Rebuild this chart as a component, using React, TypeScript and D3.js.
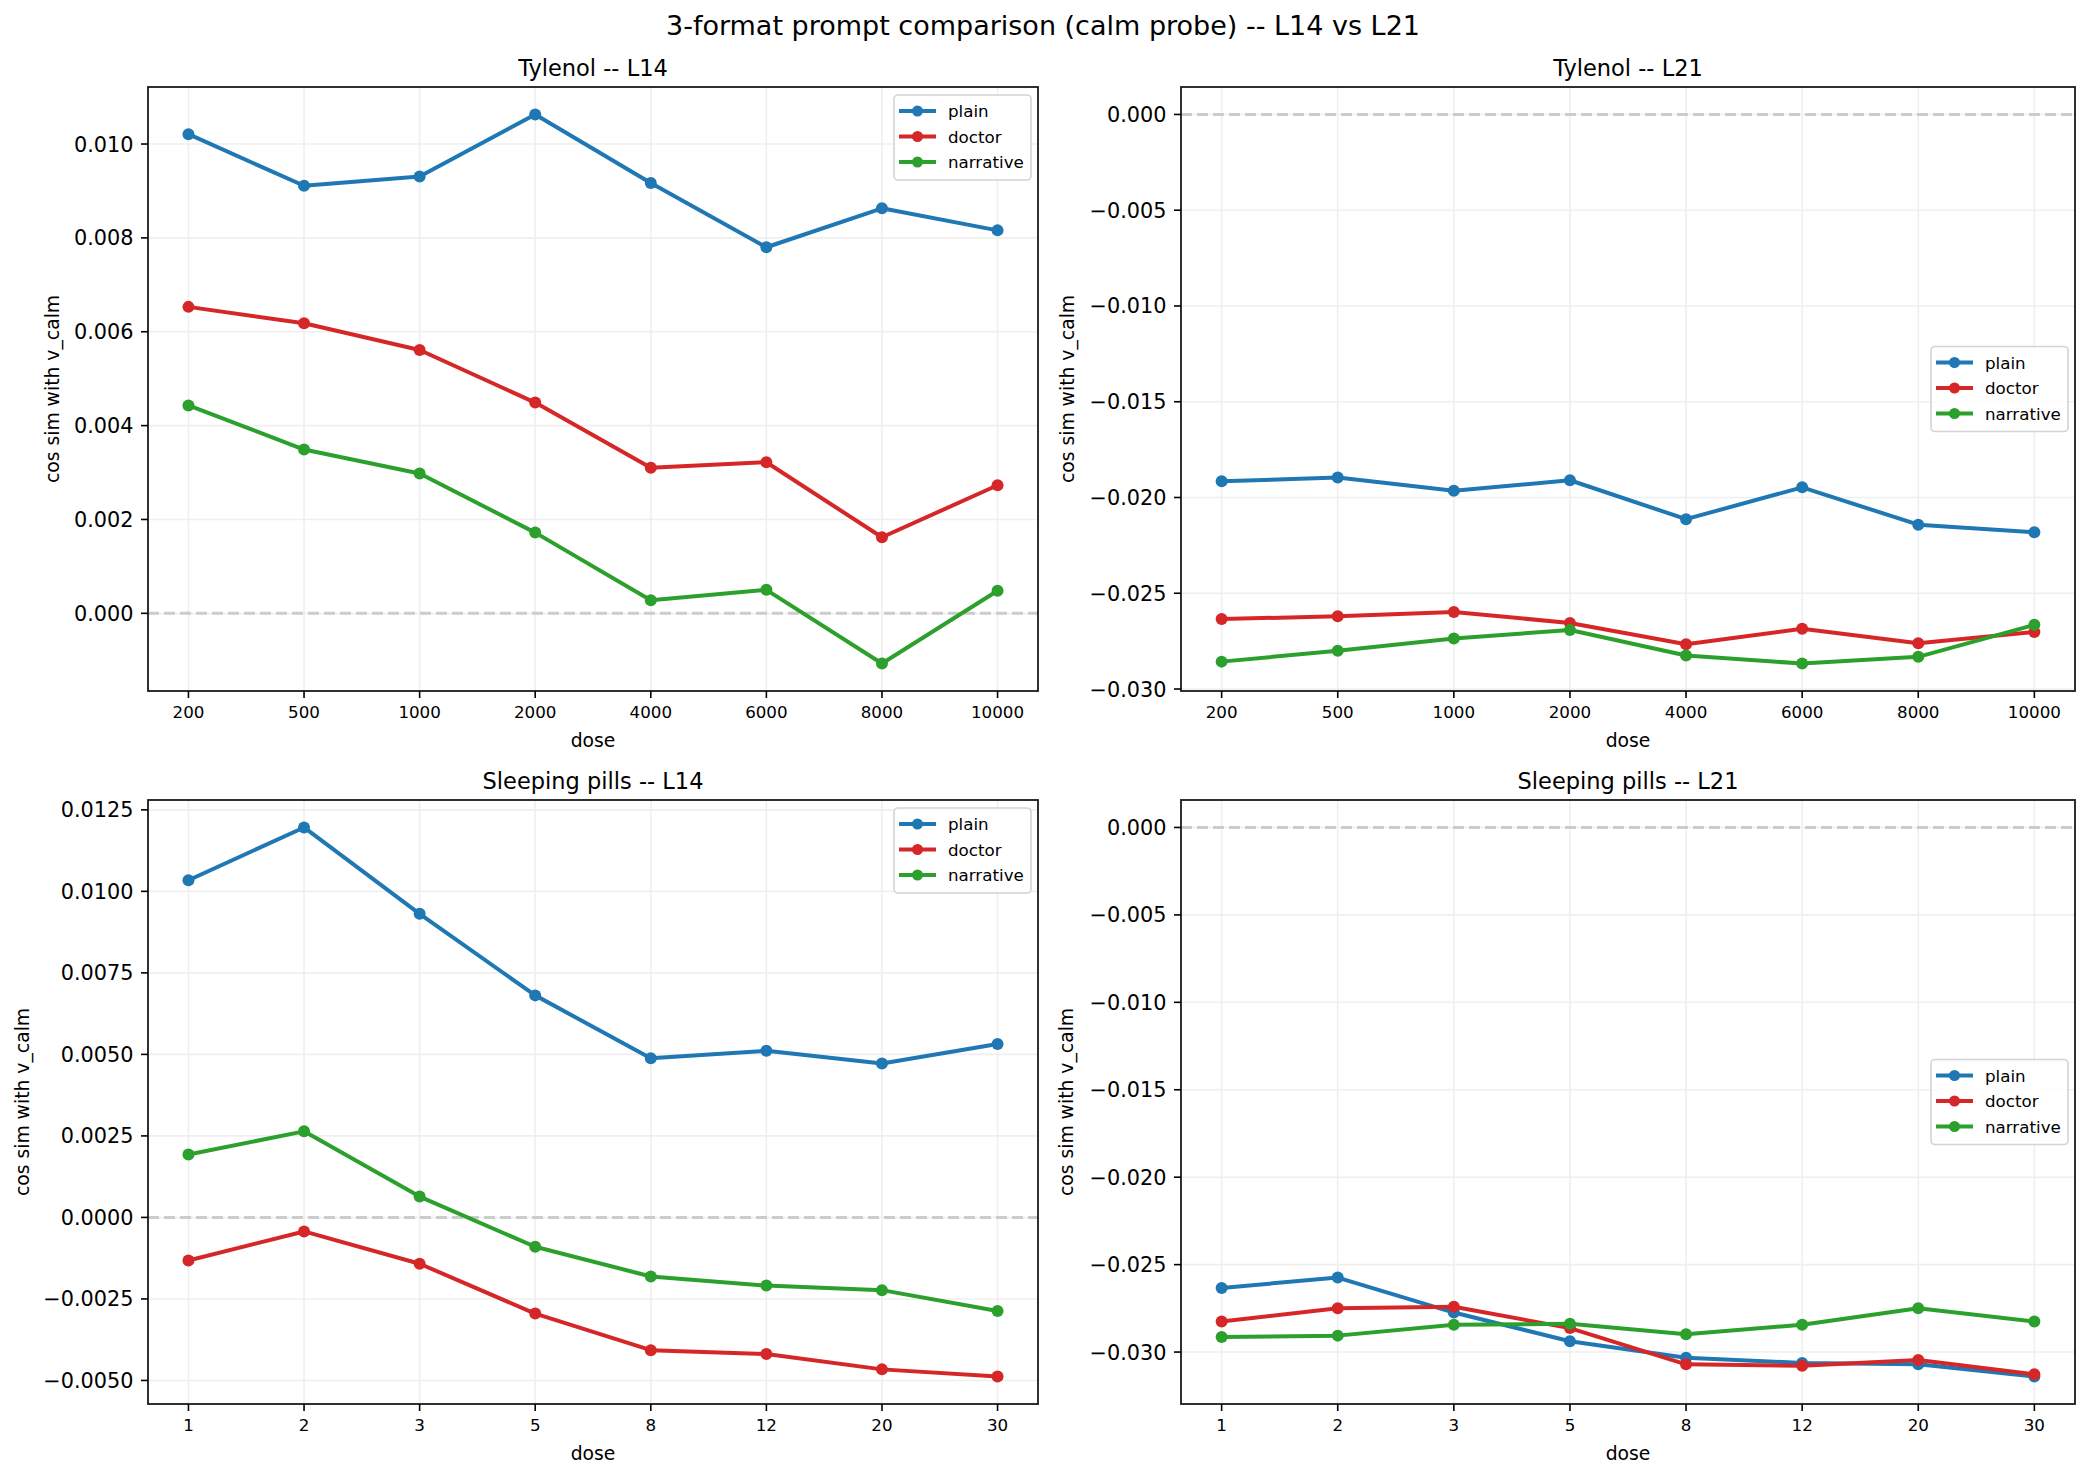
import React from "react";
import * as d3 from "d3";

// ---- data ----
const TYLENOL_DOSES = ["200", "500", "1000", "2000", "4000", "6000", "8000", "10000"];
const SLEEP_DOSES = ["1", "2", "3", "5", "8", "12", "20", "30"];
const SERIES_NAMES = ["plain", "doctor", "narrative"];

const tylL14Plain = [0.01021, 0.00911, 0.00931, 0.01063, 0.00917, 0.0078, 0.00863, 0.00816];
const tylL14Doctor = [0.00653, 0.00618, 0.00561, 0.00449, 0.0031, 0.00322, 0.00162, 0.00273];
const tylL14Narrative = [0.00443, 0.00349, 0.00298, 0.00172, 0.00028, 0.0005, -0.00107, 0.00048];

const tylL21Plain = [-0.01915, -0.01896, -0.01965, -0.0191, -0.02113, -0.01947, -0.02142, -0.02182];
const tylL21Doctor = [-0.02635, -0.0262, -0.02598, -0.02655, -0.02766, -0.02685, -0.02761, -0.02702];
const tylL21Narrative = [-0.02857, -0.028, -0.02736, -0.02692, -0.02825, -0.02867, -0.02832, -0.02665];

const slpL14Plain = [0.01034, 0.01196, 0.00931, 0.00681, 0.00488, 0.00511, 0.00472, 0.00532];
const slpL14Doctor = [-0.00132, -0.00043, -0.00142, -0.00295, -0.00407, -0.00419, -0.00466, -0.00488];
const slpL14Narrative = [0.00193, 0.00264, 0.00064, -0.0009, -0.00181, -0.00209, -0.00223, -0.00287];

const slpL21Plain = [-0.02633, -0.02574, -0.02774, -0.02938, -0.03032, -0.03062, -0.0307, -0.0314];
const slpL21Doctor = [-0.02825, -0.02749, -0.02741, -0.02863, -0.0307, -0.03078, -0.03046, -0.03127];
const slpL21Narrative = [-0.02914, -0.02906, -0.02844, -0.02838, -0.02898, -0.02844, -0.02749, -0.02825];

const TICKS_TYL_L14 = [0, 0.002, 0.004, 0.006, 0.008, 0.01];
const TICKS_L21 = [0, -0.005, -0.01, -0.015, -0.02, -0.025, -0.03];
const TICKS_SLP_L14 = [-0.005, -0.0025, 0, 0.0025, 0.005, 0.0075, 0.01, 0.0125];

const COLORS = ["#1f77b4", "#d62728", "#2ca02c"];
const FONT = "DejaVu Sans, sans-serif";

const fmt = (digits) => (v) => {
  const s = Math.abs(v).toFixed(digits);
  return v < -1e-12 ? "\u2212" + s : s;
};

function Panel({ box, title, doses, series, ticks, tickFmt, legendLoc, ylabelOffset }) {
  const { x0, x1, y0, y1 } = box;
  const n = doses.length;
  const x = d3.scaleLinear().domain([-0.35, n - 1 + 0.35]).range([x0, x1]);
  const all = series.flat().concat([0]);
  const [mn, mx] = d3.extent(all);
  const pad = (mx - mn) * 0.05;
  const y = d3.scaleLinear().domain([mn - pad, mx + pad]).range([y1, y0]);
  const line = d3
    .line()
    .x((d, i) => x(i))
    .y((d) => y(d));

  // legend layout
  const lw = 137, lh = 85;
  const lx = x1 - 7 - lw;
  const ly = legendLoc === "upper right" ? y0 + 8 : (y0 + y1) / 2 - lh / 2;

  return (
    <g>
      {/* grid */}
      {doses.map((d, i) => (
        <line key={"gx" + i} x1={x(i)} x2={x(i)} y1={y0} y2={y1} stroke="#efefef" strokeWidth={1.6} />
      ))}
      {ticks.map((t, i) => (
        <line key={"gy" + i} x1={x0} x2={x1} y1={y(t)} y2={y(t)} stroke="#efefef" strokeWidth={1.6} />
      ))}
      {/* zero line */}
      <line x1={x0} x2={x1} y1={y(0)} y2={y(0)} stroke="#cccccc" strokeWidth={3} strokeDasharray="11 5" />
      {/* series */}
      {series.map((vals, si) => (
        <g key={"s" + si}>
          <path d={line(vals)} fill="none" stroke={COLORS[si]} strokeWidth={4} strokeLinejoin="round" />
          {vals.map((v, i) => (
            <circle key={i} cx={x(i)} cy={y(v)} r={6} fill={COLORS[si]} />
          ))}
        </g>
      ))}
      {/* spines */}
      <rect x={x0} y={y0} width={x1 - x0} height={y1 - y0} fill="none" stroke="#1a1a1a" strokeWidth={1.8} />
      {/* x ticks */}
      {doses.map((d, i) => (
        <g key={"xt" + i}>
          <line x1={x(i)} x2={x(i)} y1={y1} y2={y1 + 7} stroke="#000" strokeWidth={1.6} />
          <text x={x(i)} y={y1 + 27} textAnchor="middle" fontSize={16.7} fontFamily={FONT}>
            {d}
          </text>
        </g>
      ))}
      {/* y ticks */}
      {ticks.map((t, i) => (
        <g key={"yt" + i}>
          <line x1={x0 - 7} x2={x0} y1={y(t)} y2={y(t)} stroke="#000" strokeWidth={1.6} />
          <text x={x0 - 14.5} y={y(t) + 7.5} textAnchor="end" fontSize={20.8} fontFamily={FONT}>
            {tickFmt(t)}
          </text>
        </g>
      ))}
      {/* labels */}
      <text x={(x0 + x1) / 2} y={y1 + 56} textAnchor="middle" fontSize={18.75} fontFamily={FONT}>
        dose
      </text>
      <text
        transform={`translate(${x0 - ylabelOffset + 6},${(y0 + y1) / 2}) rotate(-90)`}
        textAnchor="middle"
        fontSize={18.75}
        fontFamily={FONT}
      >
        cos sim with v_calm
      </text>
      <text x={(x0 + x1) / 2} y={y0 - 11.5} textAnchor="middle" fontSize={22.5} fontFamily={FONT}>
        {title}
      </text>
      {/* legend */}
      <g>
        <rect x={lx} y={ly} width={lw} height={lh} rx={4} fill="#fff" fillOpacity={0.8} stroke="#d4d4d4" strokeWidth={1.6} />
        {SERIES_NAMES.map((name, si) => {
          const cy = ly + 16 + si * 25.5;
          return (
            <g key={name}>
              <line x1={lx + 5} x2={lx + 42} y1={cy} y2={cy} stroke={COLORS[si]} strokeWidth={4} />
              <circle cx={lx + 23.5} cy={cy} r={5.5} fill={COLORS[si]} />
              <text x={lx + 54} y={cy + 6} fontSize={16.7} fontFamily={FONT}>
                {name}
              </text>
            </g>
          );
        })}
      </g>
    </g>
  );
}

export default function App() {
  return (
    <svg width={2086} height={1480} style={{ position: "absolute", left: 0, top: 0, background: "#fff" }}>
      <rect width={2086} height={1480} fill="#fff" />
      <text x={1043} y={35} textAnchor="middle" fontSize={27} fontFamily={FONT}>
        3-format prompt comparison (calm probe) -- L14 vs L21
      </text>
      <Panel
        box={{ x0: 148, x1: 1038, y0: 87, y1: 691 }}
        title="Tylenol -- L14"
        doses={TYLENOL_DOSES}
        series={[tylL14Plain, tylL14Doctor, tylL14Narrative]}
        ticks={TICKS_TYL_L14}
        tickFmt={fmt(3)}
        legendLoc="upper right"
        ylabelOffset={95}
      />
      <Panel
        box={{ x0: 1181, x1: 2075, y0: 87, y1: 691 }}
        title="Tylenol -- L21"
        doses={TYLENOL_DOSES}
        series={[tylL21Plain, tylL21Doctor, tylL21Narrative]}
        ticks={TICKS_L21}
        tickFmt={fmt(3)}
        legendLoc="center right"
        ylabelOffset={113}
      />
      <Panel
        box={{ x0: 148, x1: 1038, y0: 800, y1: 1404 }}
        title="Sleeping pills -- L14"
        doses={SLEEP_DOSES}
        series={[slpL14Plain, slpL14Doctor, slpL14Narrative]}
        ticks={TICKS_SLP_L14}
        tickFmt={fmt(4)}
        legendLoc="upper right"
        ylabelOffset={125}
      />
      <Panel
        box={{ x0: 1181, x1: 2075, y0: 800, y1: 1404 }}
        title="Sleeping pills -- L21"
        doses={SLEEP_DOSES}
        series={[slpL21Plain, slpL21Doctor, slpL21Narrative]}
        ticks={TICKS_L21}
        tickFmt={fmt(3)}
        legendLoc="center right"
        ylabelOffset={114}
      />
    </svg>
  );
}
